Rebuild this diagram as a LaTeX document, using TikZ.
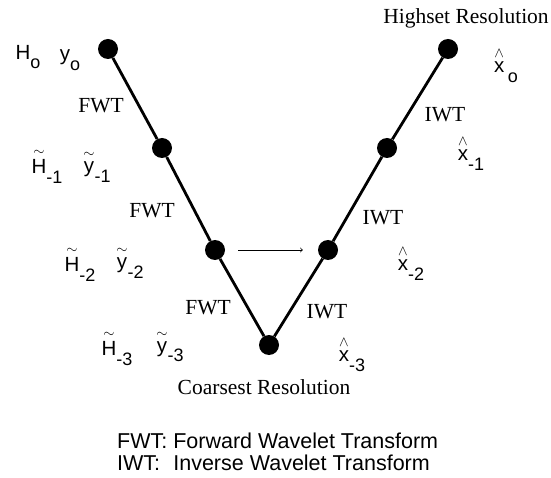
\documentclass[tikz,border=0pt]{standalone}
\usepackage{amsmath}
\usepackage{fontspec}
\setmainfont{Liberation Serif}
\setsansfont{Liberation Sans}
\newcommand{\lowsub}[2]{#1\raisebox{-0.9ex}{\fontsize{18}{20}\selectfont#2}}
\newcommand{\tildeon}[1]{$\overset{\sim}{\mbox{#1}}$}
\newcommand{\hatx}{$\overset{\wedge}{\mbox{x}}$}
\tikzset{
    dot/.style={circle, fill=black, inner sep=0pt, minimum size=20pt},
    leg/.style={line width=2.8pt},
    op/.style={font=\fontsize{21.5}{23}\selectfont},
    sym/.style={inner sep=1pt, font=\fontsize{20.5}{22}\selectfont\sffamily}
}
\begin{document}
\begin{tikzpicture}[x=1pt, y=-1pt]
    \useasboundingbox (0,0) rectangle (551,478);

    % Points
    \node[dot] (l0) at (108, 49) {};
    \node[dot] (l1) at (162, 148) {};
    \node[dot] (l2) at (215, 250) {};
    \node[dot] (c)  at (269, 345) {};
    \node[dot] (r2) at (328, 250) {};
    \node[dot] (r1) at (387, 148) {};
    \node[dot] (r0) at (448, 49) {};

    % V shape
    \draw[leg] (l0) -- (l1) -- (l2) -- (c) -- (r2) -- (r1) -- (r0);
    \draw[->, line width=0.8pt, shorten <=13pt, shorten >=15pt] (l2) -- (r2);

    % Transform labels
    \node[op] (f1) at (101, 106) {FWT};
    \node[op] (f2) at (152, 211) {FWT};
    \node[op] (f3) at (208, 308) {FWT};
    \node[op] (i1) at (445, 115) {IWT};
    \node[op] (i2) at (383, 218) {IWT};
    \node[op] (i3) at (327, 312) {IWT};

    % Filters and signals
    \node[sym] (h0) at (28, 57) {\lowsub{H}{o}};
    \node[sym] (y0) at (70, 60) {\lowsub{y}{o}};
    \node[sym] (h1) at (47, 166) {\lowsub{\tildeon{H}}{-1}};
    \node[sym] (y1) at (97, 166) {\lowsub{\tildeon{y}}{-1}};
    \node[sym] (h2) at (80, 264) {\lowsub{\tildeon{H}}{-2}};
    \node[sym] (y2) at (130, 262) {\lowsub{\tildeon{y}}{-2}};
    \node[sym] (h3) at (117, 348) {\lowsub{\tildeon{H}}{-3}};
    \node[sym] (y3) at (170, 346) {\lowsub{\tildeon{y}}{-3}};
    \node[sym] (x0) at (506, 65) {\hatx\,\lowsub{}{o}};
    \node[sym] (x1) at (471, 153) {\lowsub{\hatx}{-1}};
    \node[sym] (x2) at (411, 263) {\lowsub{\hatx}{-2}};
    \node[sym] (x3) at (352, 354) {\lowsub{\hatx}{-3}};

    % Resolutions
    \node[op] (hi) at (466, 18) {Highset Resolution};
    \node[op] (lo) at (264, 387) {Coarsest Resolution};

    % Legend
    \node[anchor=north west, inner sep=0pt, font=\fontsize{21.5}{22}\selectfont\sffamily] (key) at (117, 433)
        {\begin{tabular}{@{}l@{\ }l@{}}FWT: & Forward Wavelet Transform\\ IWT: & Inverse Wavelet Transform\end{tabular}};
\end{tikzpicture}
\end{document}
